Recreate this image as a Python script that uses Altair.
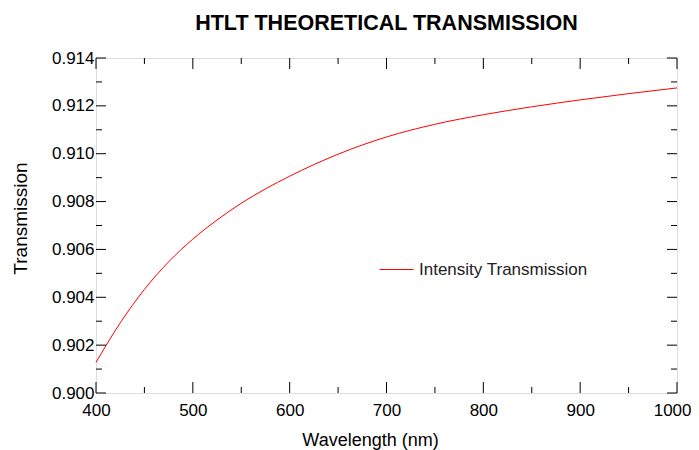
import altair as alt
import pandas as pd

wavelength = [400, 425, 450, 475, 500, 525, 550, 575, 600, 650, 700, 750, 800, 850, 900, 950, 1000]
transmission = [0.90128, 0.90293, 0.90433, 0.90548, 0.90643, 0.90723, 0.90793, 0.90853,
                0.90906, 0.90998, 0.91070, 0.91123, 0.91163, 0.91196, 0.91225, 0.91251,
                0.91275]
series_name = "Intensity Transmission"
x_major = [400, 500, 600, 700, 800, 900, 1000]
x_minor = [450, 550, 650, 750, 850, 950]
y_major = [0.900, 0.902, 0.904, 0.906, 0.908, 0.910, 0.912, 0.914]
y_minor = [0.901, 0.903, 0.905, 0.907, 0.909, 0.911, 0.913]

W, H = 581, 335
FONT = "Liberation Sans"

df = pd.DataFrame({"Wavelength": wavelength, "Transmission": transmission,
                   "series": [series_name] * len(wavelength)})

xs = alt.Scale(domain=[400, 1000], nice=False, zero=False)
ys = alt.Scale(domain=[0.900, 0.914], nice=False, zero=False)

line = alt.Chart(df).mark_line(color="#ff0000", strokeWidth=1, interpolate="monotone").encode(
    x=alt.X("Wavelength:Q", scale=xs,
            axis=alt.Axis(values=x_major, format="d", title="Wavelength (nm)", ticks=False,
                          grid=False, domain=False, labelPadding=9, labelFontSize=17,
                          labelFlush=False,
                          labelAlign={"expr": "datum.value == 1000 ? 'right' : 'center'"},
                          labelOffset={"expr": "datum.value == 1000 ? 14 : 0"},
                          labelFont=FONT, titleFont=FONT, titleFontSize=18,
                          titleFontWeight="normal", titleY=52, titleX=274,
                          titleBaseline="alphabetic", labelColor="black",
                          titleColor="black")),
    y=alt.Y("Transmission:Q", scale=ys,
            axis=alt.Axis(values=y_major, format=".3f", title="Transmission", ticks=False,
                          grid=False, domain=False, labelPadding=2, labelFontSize=17,
                          labelFont=FONT, titleFont=FONT, titleFontSize=19,
                          titleFontWeight="normal", titleX=-70, titleY=160,
                          titleBaseline="alphabetic", titleAngle=270, labelColor="black",
                          titleColor="black")),
    color=alt.Color("series:N", scale=alt.Scale(range=["#ff0000"]),
                    legend=alt.Legend(title=None, orient="none", legendX=283, legendY=194,
                                      symbolType="stroke", symbolSize=1150, symbolStrokeWidth=1,
                                      labelFont=FONT, labelFontSize=17, labelColor="#222222",
                                      labelOffset=5, labelLimit=400)),
)

def xticks(vals, size, top):
    d = pd.DataFrame({"v": vals})
    if top:
        y1, y2 = 0, size
    else:
        y1, y2 = H, H - size
    return alt.Chart(d).mark_rule(color="black", strokeWidth=1).encode(
        x=alt.X("v:Q", scale=xs), y=alt.value(y1), y2=alt.value(y2))

def yticks(vals, size, right):
    d = pd.DataFrame({"v": vals})
    if right:
        x1, x2 = W, W - size
    else:
        x1, x2 = 0, size
    return alt.Chart(d).mark_rule(color="black", strokeWidth=1).encode(
        y=alt.Y("v:Q", scale=ys), x=alt.value(x1), x2=alt.value(x2))

ticks = [
    xticks(x_major, 11, False), xticks(x_minor, 6, False),
    xticks(x_major, 11, True), xticks(x_minor, 6, True),
    yticks(y_major, 10, False), yticks(y_minor, 6, False),
    yticks(y_major, 10, True), yticks(y_minor, 6, True),
]

chart = alt.layer(line, *ticks).properties(
    width=W, height=H,
    title=alt.TitleParams("HTLT THEORETICAL TRANSMISSION", font=FONT, fontSize=21.5,
                          fontWeight="bold", color="black", anchor="middle", offset=15),
    autosize=alt.AutoSizeParams(type="none"),
    padding={"left": 88, "top": 50, "right": 14, "bottom": 60},
).configure_view(stroke="black", strokeWidth=1.2).configure(background="white")

chart.save("out.html", embed_options={"renderer": "svg", "actions": False})
